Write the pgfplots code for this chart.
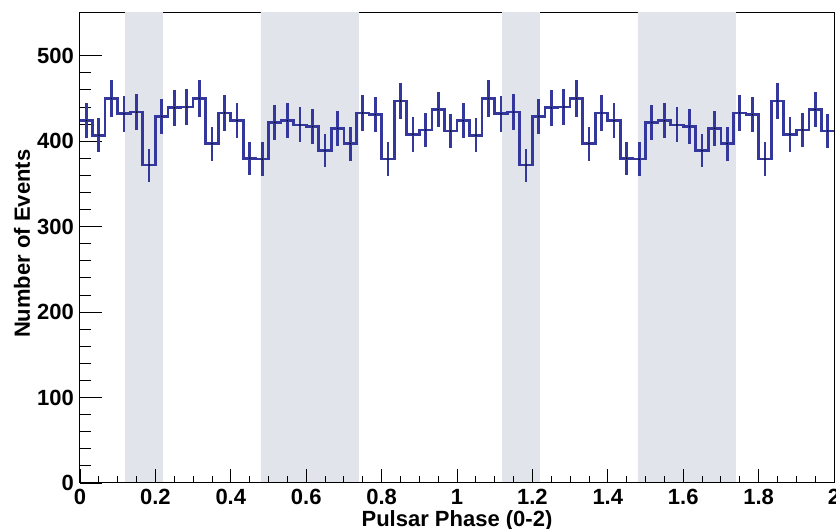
\documentclass[border=0pt]{standalone}
\usepackage{pgfplots}
\pgfplotsset{compat=1.18}
\usepackage{pgfplotstable}
\usepackage{fontspec}
\setmainfont{Liberation Sans}
\definecolor{histblue}{RGB}{52,56,156}
\definecolor{band}{RGB}{225,228,234}
\pgfplotstableread{
left center y err
0.00000 0.01667 424 20.6
0.03333 0.05000 407 20.2
0.06667 0.08333 450 21.2
0.10000 0.11667 432 20.8
0.13333 0.15000 434 20.8
0.16667 0.18333 372 19.3
0.20000 0.21667 429 20.7
0.23333 0.25000 439 21.0
0.26667 0.28333 440 21.0
0.30000 0.31667 450 21.2
0.33333 0.35000 397 19.9
0.36667 0.38333 433 20.8
0.40000 0.41667 424 20.6
0.43333 0.45000 380 19.5
0.46667 0.48333 379 19.5
0.50000 0.51667 422 20.5
0.53333 0.55000 424 20.6
0.56667 0.58333 419 20.5
0.60000 0.61667 417 20.4
0.63333 0.65000 389 19.7
0.66667 0.68333 415 20.4
0.70000 0.71667 397 19.9
0.73333 0.75000 433 20.8
0.76667 0.78333 431 20.8
0.80000 0.81667 379 19.5
0.83333 0.85000 447 21.1
0.86667 0.88333 408 20.2
0.90000 0.91667 413 20.3
0.93333 0.95000 437 20.9
0.96667 0.98333 412 20.3
1.00000 1.01667 424 20.6
1.03333 1.05000 407 20.2
1.06667 1.08333 450 21.2
1.10000 1.11667 432 20.8
1.13333 1.15000 434 20.8
1.16667 1.18333 372 19.3
1.20000 1.21667 429 20.7
1.23333 1.25000 439 21.0
1.26667 1.28333 440 21.0
1.30000 1.31667 450 21.2
1.33333 1.35000 397 19.9
1.36667 1.38333 433 20.8
1.40000 1.41667 424 20.6
1.43333 1.45000 380 19.5
1.46667 1.48333 379 19.5
1.50000 1.51667 422 20.5
1.53333 1.55000 424 20.6
1.56667 1.58333 419 20.5
1.60000 1.61667 417 20.4
1.63333 1.65000 389 19.7
1.66667 1.68333 415 20.4
1.70000 1.71667 397 19.9
1.73333 1.75000 433 20.8
1.76667 1.78333 431 20.8
1.80000 1.81667 379 19.5
1.83333 1.85000 447 21.1
1.86667 1.88333 408 20.2
1.90000 1.91667 413 20.3
1.93333 1.95000 437 20.9
1.96667 1.98333 412 20.3
2.00000 nan 412 nan
}\histdata
\pgfplotsset{
  common/.style={
    width=754pt, height=470pt, scale only axis,
    xmin=0, xmax=2, ymin=0, ymax=550,
    /pgf/number format/assume math mode=true,
    /pgf/number format/fixed,
    tick align=inside,
    every tick label/.append style={font=\bfseries\fontsize{22}{26}\selectfont},
    label style={font=\bfseries\fontsize{22}{26}\selectfont},
  }
}
\begin{document}
\begin{tikzpicture}
% frame, y ticks and bands
\begin{axis}[common,
  axis line style={line width=1pt},
  xtick=\empty,
  ytick={0,100,...,500}, minor y tick num=4,
  ytick pos=left,
  major tick length=22pt, minor tick length=11pt,
  every tick/.style={black, line width=0.9pt},
  yticklabel style={anchor=east, inner sep=0pt, xshift=-6pt},
  ylabel={Number of Events},
  ylabel style={rotate=0, anchor=center, at={(axis description cs:-0.077,0.509)}},
]
\addplot[fill=band, draw=none] coordinates {(0.12,0) (0.12,560) (0.22,560) (0.22,0)} \closedcycle;
\addplot[fill=band, draw=none] coordinates {(0.48,0) (0.48,560) (0.74,560) (0.74,0)} \closedcycle;
\addplot[fill=band, draw=none] coordinates {(1.12,0) (1.12,560) (1.22,560) (1.22,0)} \closedcycle;
\addplot[fill=band, draw=none] coordinates {(1.48,0) (1.48,560) (1.74,560) (1.74,0)} \closedcycle;
\end{axis}
% bottom axis with x ticks and histogram
\begin{axis}[common,
  axis x line*=bottom, axis y line=none,
  axis line style={line width=1pt, -},
  xtick={0,0.2,...,2.01}, minor x tick num=3,
  xtick pos=bottom,
  major tick length=14pt, minor tick length=7pt,
  every tick/.style={black, line width=0.9pt},
  xticklabels={0,0.2,0.4,0.6,0.8,1,1.2,1.4,1.6,1.8,2},
  xticklabel style={anchor=base, inner sep=0pt, yshift=-22pt},
  xlabel={Pulsar Phase (0-2)},
  xlabel style={anchor=base, at={(axis description cs:0.5,-0.093)}},
]
\addplot[histblue, line width=2.7pt, const plot mark left, mark=none] table[x=left, y=y] {\histdata};
\addplot[histblue, line width=2.7pt, only marks, mark=*, mark size=0.6pt,
  mark options={black, draw=black, line width=0.2pt},
  error bars/.cd, y dir=both, y explicit, error mark=none,
  error bar style={histblue, line width=2.7pt, solid}]
  table[x=center, y=y, y error=err] {\histdata};
\end{axis}
\pgfresetboundingbox
\useasboundingbox (-80pt,-46pt) rectangle (756pt,483pt);
\end{tikzpicture}
\end{document}
